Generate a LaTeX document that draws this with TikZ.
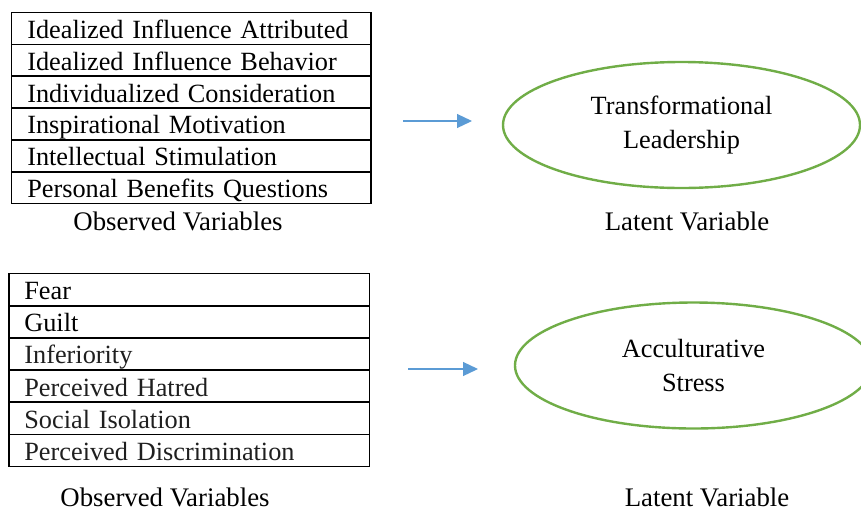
\documentclass[tikz,border=0pt]{standalone}
\usepackage{fontspec}
\setmainfont{Liberation Serif}
\usetikzlibrary{shapes.geometric,arrows.meta}
\definecolor{lvgreen}{RGB}{112,173,71}
\definecolor{arrblue}{RGB}{91,155,213}
\tikzset{
  rowbox/.style={draw=black, line width=1.6pt, anchor=north west, minimum height=32pt,
    inner ysep=0pt, align=left,
    font=\fontsize{26.3}{30}\selectfont, text height=21pt, text depth=1pt},
  toprow/.style={rowbox, minimum width=359.5pt, inner xsep=15.5pt, text width=328pt},
  botrow/.style={rowbox, minimum width=360.5pt, inner xsep=15pt, text width=330pt},
  lv/.style={draw=lvgreen, line width=2.4pt, ellipse, inner sep=0pt,
    minimum width=357pt, minimum height=126pt, align=center,
    font=\fontsize{26.3}{34}\selectfont},
  captiontext/.style={font=\fontsize{26.8}{30}\selectfont, inner sep=0pt},
  linkarrow/.style={draw=arrblue, line width=1.2pt, -{Triangle[length=15pt,width=14pt]}}
}
\begin{document}
\begin{tikzpicture}[x=1pt,y=-1pt]
\useasboundingbox (0,0) rectangle (861,512);
\clip (0,0) rectangle (861,512);
% top table
\node[toprow] (t1) at (10.7,11.7) {Idealized Influence Attributed};
\node[toprow] (t2) at (10.7,43.5) {Idealized Influence Behavior};
\node[toprow] (t3) at (10.7,75.3) {Individualized Consideration};
\node[toprow] (t4) at (10.7,107.1) {Inspirational Motivation};
\node[toprow] (t5) at (10.7,138.9) {Intellectual Stimulation};
\node[toprow] (t6) at (10.7,170.7) {Personal Benefits Questions};
\node[captiontext] (tobs) at (178,221) {Observed Variables};
% top latent
\node[lv] (tl) at (681.5,125) {Transformational\\Leadership};
\node[captiontext] (tlat) at (687,221) {Latent Variable};
\coordinate (ta) at (403,121);
\coordinate (tb) at (472,121);
\draw[linkarrow] (ta) -- (tb);
% bottom table
\node[botrow] (b1) at (8.3,272.7) {Fear};
\node[botrow] (b2) at (8.3,304.9) {Guilt};
\node[botrow, text=black!88] (b3) at (8.3,337.1) {Inferiority};
\node[botrow, text=black!88] (b4) at (8.3,369.3) {Perceived Hatred};
\node[botrow, text=black!88] (b5) at (8.3,401.5) {Social Isolation};
\node[botrow, text=black!88] (b6) at (8.3,433.7) {Perceived Discrimination};
\node[captiontext, anchor=base] (bobs) at (165,506) {Observed Variables};
% bottom latent
\node[lv] (bl) at (693.5,365.5) {Acculturative\\Stress};
\node[captiontext, anchor=base] (blat) at (707,506) {Latent Variable};
\coordinate (ba) at (408,369);
\coordinate (bb) at (478,369);
\draw[linkarrow] (ba) -- (bb);
\end{tikzpicture}
\end{document}
